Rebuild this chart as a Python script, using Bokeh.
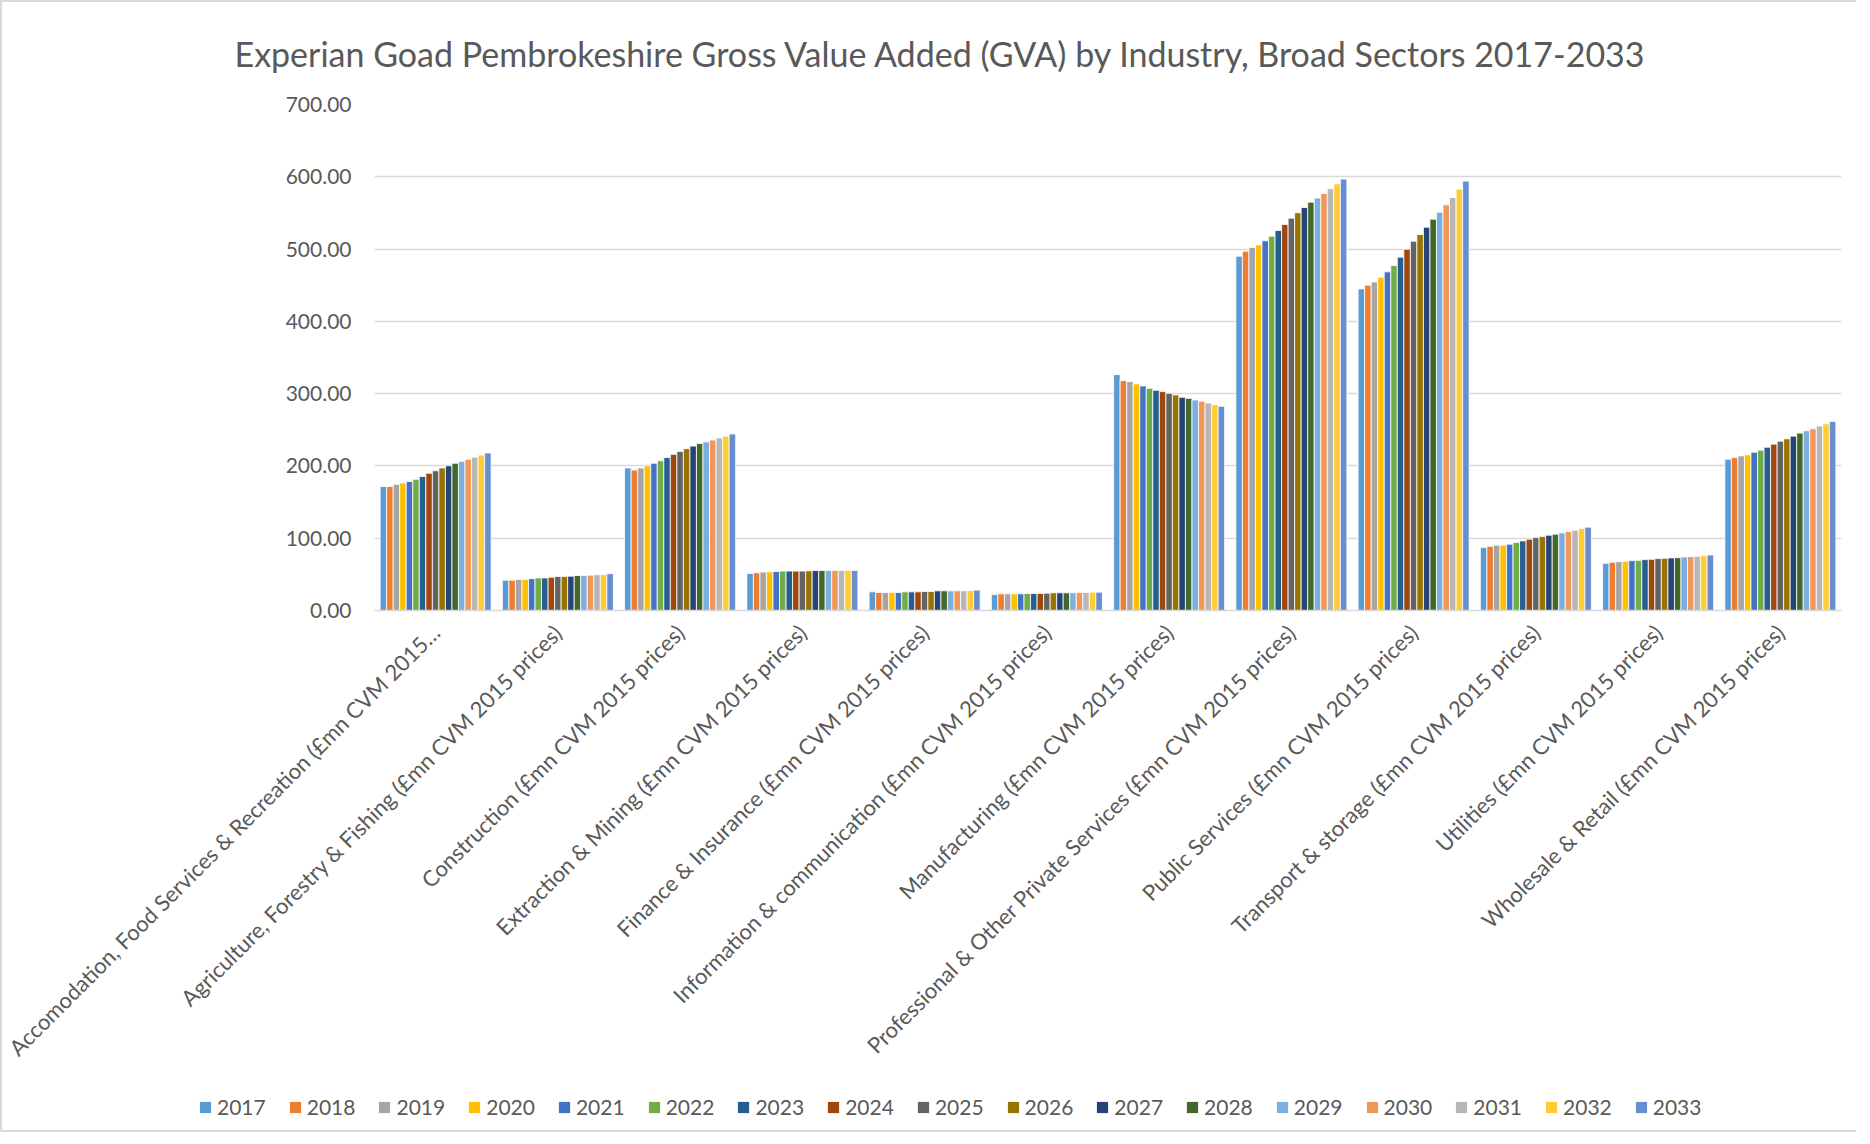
from math import pi
from bokeh.plotting import figure
from bokeh.layouts import column, row
from bokeh.models import (ColumnDataSource, FactorRange, Range1d, NumeralTickFormatter, FixedTicker,
                          Legend, LegendItem)
from bokeh.transform import dodge
from bokeh.embed import file_html
from bokeh.resources import INLINE

FONT = "Lato"
TXT = "#595959"
GRID = "#d9d9d9"

title_text = "Experian Goad Pembrokeshire Gross Value Added (GVA) by Industry, Broad Sectors 2017-2033"

categories = [
    "Accomodation, Food Services & Recreation (£mn CVM 2015…",
    "Agriculture, Forestry & Fishing (£mn CVM 2015 prices)",
    "Construction (£mn CVM 2015 prices)",
    "Extraction & Mining (£mn CVM 2015 prices)",
    "Finance & Insurance (£mn CVM 2015 prices)",
    "Information & communication (£mn CVM 2015 prices)",
    "Manufacturing (£mn CVM 2015 prices)",
    "Professional & Other Private Services (£mn CVM 2015 prices)",
    "Public Services (£mn CVM 2015 prices)",
    "Transport & storage (£mn CVM 2015 prices)",
    "Utilities (£mn CVM 2015 prices)",
    "Wholesale & Retail (£mn CVM 2015 prices)",
]

years = [str(y) for y in range(2017, 2034)]

accommodation = [171.5, 171.5, 174.5, 176.5, 178.4, 181.4, 185.4, 189.8, 193.3, 197.2, 200.2, 203.7, 206.1, 209.1, 212.1, 215.0, 218.0]
agriculture = [42.0, 42.0, 43.0, 43.0, 44.0, 45.0, 45.0, 46.0, 47.0, 47.0, 47.5, 48.4, 48.4, 48.9, 49.4, 49.9, 50.9]
construction = [197.2, 194.3, 197.2, 200.2, 203.7, 207.1, 211.6, 216.0, 220.0, 223.9, 227.4, 230.9, 233.3, 235.8, 238.8, 241.2, 244.2]
extraction = [51.2, 52.2, 53.1, 53.5, 54.0, 54.5, 54.5, 54.5, 54.5, 54.9, 55.4, 55.4, 55.4, 55.4, 55.4, 55.4, 55.4]
finance = [25.8, 24.9, 24.9, 24.9, 24.9, 25.8, 25.8, 25.8, 26.3, 26.3, 27.2, 27.2, 27.2, 27.2, 27.2, 27.7, 28.2]
information = [22.2, 23.1, 23.1, 23.1, 23.1, 23.5, 23.5, 23.5, 24.0, 24.5, 24.5, 24.5, 24.5, 24.9, 24.9, 25.4, 25.4]
manufacturing = [326.3, 318.0, 316.6, 313.4, 310.6, 307.4, 304.6, 302.8, 300.5, 298.2, 294.9, 293.5, 291.2, 289.4, 287.1, 284.8, 282.5]
professional = [490.2, 497.1, 502.2, 505.8, 511.4, 517.8, 525.7, 534.0, 542.8, 550.2, 557.5, 564.9, 570.5, 576.9, 583.4, 590.3, 596.8]
public = [444.9, 450.0, 454.6, 461.1, 468.5, 477.2, 488.8, 499.8, 510.9, 520.2, 530.3, 541.4, 551.1, 561.2, 571.4, 582.9, 594.0]
transport = [87.0, 88.9, 90.3, 90.3, 91.7, 94.0, 96.3, 98.6, 100.9, 102.3, 104.2, 105.6, 107.4, 109.3, 111.1, 113.4, 115.3]
utilities = [65.3, 66.7, 67.6, 68.1, 69.0, 69.4, 70.4, 70.8, 71.8, 72.2, 72.7, 73.1, 74.1, 74.5, 75.0, 75.9, 76.9]
wholesale = [209.3, 211.6, 213.9, 215.3, 219.0, 221.8, 225.9, 230.1, 234.3, 237.5, 241.2, 245.4, 248.6, 251.4, 255.1, 258.3, 261.6]

sectors = [accommodation, agriculture, construction, extraction, finance, information,
           manufacturing, professional, public, transport, utilities, wholesale]

colors = ["#5B9BD5", "#ED7D31", "#A5A5A5", "#FFC000", "#4472C4", "#70AD47", "#255E91",
          "#9E480E", "#636363", "#997300", "#264478", "#43682B", "#7CAFDD", "#F1975A",
          "#B7B7B7", "#FFCD33", "#698ED0"]

y_ticks = [0, 100, 200, 300, 400, 500, 600, 700]

data = {"cat": categories}
for k, yr in enumerate(years):
    data[yr] = [s[k] for s in sectors]
source = ColumnDataSource(data)

W = 1854
H_MAIN, H_LEG = 1084, 44
ML, MR, MT = 372, 15, 102
MB = H_MAIN - MT - 506

p = figure(width=W, height=H_MAIN, x_range=FactorRange(*categories), y_range=Range1d(0, 700),
           output_backend="svg", toolbar_location=None,
           min_border_left=ML, min_border_right=MR, min_border_top=MT, min_border_bottom=MB)

group = 0.908
slot = group / len(years)
for k, yr in enumerate(years):
    off = (k - (len(years) - 1) / 2) * slot
    p.vbar(x=dodge("cat", off, range=p.x_range), top=yr, width=slot, source=source,
           fill_color=colors[k], line_color="white", line_width=0.8)

p.title.text = title_text
p.title.text_font = FONT
p.title.text_font_size = "34px"
p.title.text_font_style = "normal"
p.title.text_color = TXT
p.title.align = "left"
p.title.offset = -140
p.title.vertical_align = "top"
p.title.standoff = 58

p.outline_line_color = None
p.xgrid.grid_line_color = None
p.ygrid.grid_line_color = GRID
p.ygrid.grid_line_width = 1.6

p.yaxis.ticker = FixedTicker(ticks=y_ticks)
p.yaxis.formatter = NumeralTickFormatter(format="0.00")
p.yaxis.axis_line_color = None
p.yaxis.major_tick_line_color = None
p.yaxis.minor_tick_line_color = None
p.yaxis.major_tick_out = 0
p.yaxis.major_label_standoff = 23
p.yaxis.major_label_text_font = FONT
p.yaxis.major_label_text_font_size = "21px"
p.yaxis.major_label_text_color = TXT

p.xaxis.axis_line_color = GRID
p.xaxis.axis_line_width = 1.6
p.xaxis.major_tick_line_color = None
p.xaxis.minor_tick_line_color = None
p.xaxis.major_tick_out = 0
p.xaxis.major_label_orientation = pi / 4
p.xaxis.major_label_standoff = 18
p.xaxis.major_label_text_font = FONT
p.xaxis.major_label_text_font_size = "22px"
p.xaxis.major_label_text_color = TXT

# legend strip below the chart
q = figure(width=W, height=H_LEG, x_range=Range1d(0, 1), y_range=Range1d(0, 1),
           output_backend="svg", toolbar_location=None, min_border=0,
           x_axis_type=None, y_axis_type=None)
q.outline_line_color = None
items = []
for k, yr in enumerate(years):
    swatch = ColumnDataSource({"x": [0], "top": [0]})
    r = q.vbar(x="x", top="top", width=0, source=swatch, fill_color=colors[k], line_color=None)
    items.append(LegendItem(label=yr, renderers=[r]))
legend = Legend(items=items, orientation="horizontal", location=(196, 11),
                border_line_color=None, background_fill_alpha=0, padding=0, margin=0,
                glyph_width=14, glyph_height=14, label_standoff=5, spacing=22,
                label_text_font=FONT, label_text_font_size="21px", label_text_color=TXT)
q.add_layout(legend)

if "frame_align" in type(p).properties():
    p.frame_align = False
    q.frame_align = False
    bottom = q
else:
    bottom = row(q)

layout = column(p, bottom, spacing=0,
                styles={"border-left": "2px solid #d9d9d9", "border-top": "2px solid #d9d9d9",
                        "border-bottom": "2px solid #d9d9d9"})

open("out.html", "w").write(file_html(layout, INLINE))
